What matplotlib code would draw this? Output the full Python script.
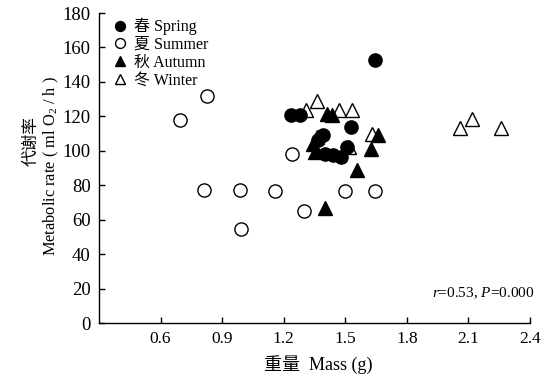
import numpy as np
import matplotlib
matplotlib.use("Agg")
import matplotlib.pyplot as plt

plt.rcParams['font.family'] = ['Liberation Serif', 'Noto Sans CJK SC']
plt.rcParams['mathtext.fontset'] = 'custom'
plt.rcParams['mathtext.rm'] = 'Liberation Serif'
plt.rcParams['mathtext.it'] = 'Liberation Serif:italic'

# mass (g) and metabolic rate (ml O2/h)
spring_mass = [1.645, 1.235, 1.28, 1.53, 1.39, 1.365, 1.40, 1.44, 1.48, 1.51]
spring_rate = [153, 121, 120.5, 114, 109, 106, 98, 97.5, 96.5, 102]

summer_mass = [0.695, 0.825, 0.81, 0.985, 1.157, 1.24, 1.30, 1.50, 1.645, 0.99]
summer_rate = [118, 132, 77, 77, 76.5, 98, 65, 76.5, 76.5, 54.5]

autumn_mass = [1.41, 1.435, 1.345, 1.35, 1.36, 1.625, 1.66, 1.555, 1.40]
autumn_rate = [121.5, 120.5, 104, 99.5, 108, 101, 109, 89, 66.5]

winter_mass = [1.36, 1.31, 1.47, 1.535, 1.63, 1.52, 2.06, 2.115, 2.26]
winter_rate = [129, 123.5, 123.5, 123.5, 109.5, 102, 113, 118.5, 113]

xticks = [0.6, 0.9, 1.2, 1.5, 1.8, 2.1, 2.4]
yticks = [0, 20, 40, 60, 80, 100, 120, 140, 160, 180]

fig = plt.figure(figsize=(5.42, 3.79), dpi=100)
ax = fig.add_axes([99 / 542, 1 - 323 / 379, 431 / 542, 310 / 379])

ms = 9.5
ew = 1.0
ax.plot(winter_mass, winter_rate, '^', ms=ms, mfc='white', mec='black',
        mew=ew, label='冬 Winter', zorder=3)
ax.plot(summer_mass, summer_rate, 'o', ms=ms, mfc='white', mec='black',
        mew=ew, label='夏 Summer', zorder=3)
ax.plot(autumn_mass, autumn_rate, '^', ms=ms, mfc='black', mec='black',
        mew=ew, label='秋 Autumn', zorder=4)
ax.plot(spring_mass, spring_rate, 'o', ms=ms, mfc='black', mec='black',
        mew=ew, label='春 Spring', zorder=4)

ax.set_xlim(0.3, 2.4)
ax.set_ylim(0, 180)
ax.set_xticks(xticks)
ax.set_yticks(yticks)
ax.set_xticklabels([f"{t:.1f}" for t in xticks], fontsize=12.5)
ax.set_yticklabels([str(t) for t in yticks], fontsize=13.5)
ax.tick_params(direction='in', length=4, width=1, pad=6)
for s in ['top', 'right']:
    ax.spines[s].set_visible(False)
for s in ['left', 'bottom']:
    ax.spines[s].set_linewidth(1)

handles, labels = ax.get_legend_handles_labels()
order = [3, 1, 2, 0]
ax.legend([handles[i] for i in order], [labels[i] for i in order],
          loc='upper left', bbox_to_anchor=(0.015, 1.005), frameon=False,
          markerscale=0.75, handlelength=1.0, handletextpad=0.4,
          labelspacing=0.12, borderaxespad=0.0,
          prop={'family': ['Liberation Serif', 'Noto Sans CJK SC'], 'size': 11.5})

ax.text(1.01, 17.4, r'$r$=0.53, $P$=0.000', transform=ax.get_yaxis_transform(),
        ha='right', va='center', fontsize=11)

fig.text(51 / 542, 1 - 166 / 379, r'Metabolic rate ( ml O$_2$ / h )', rotation=90,
         ha='center', va='center', fontsize=11.8)
fig.text(31 / 542, 1 - 141 / 379, '代谢率', rotation=90, ha='center', va='center',
         fontsize=12, family=['Noto Sans CJK SC'])
fig.text(318 / 542, 1 - 365 / 379, '重量  Mass (g)', ha='center', va='center',
         fontsize=13)

fig.savefig("out.png", dpi=100)
